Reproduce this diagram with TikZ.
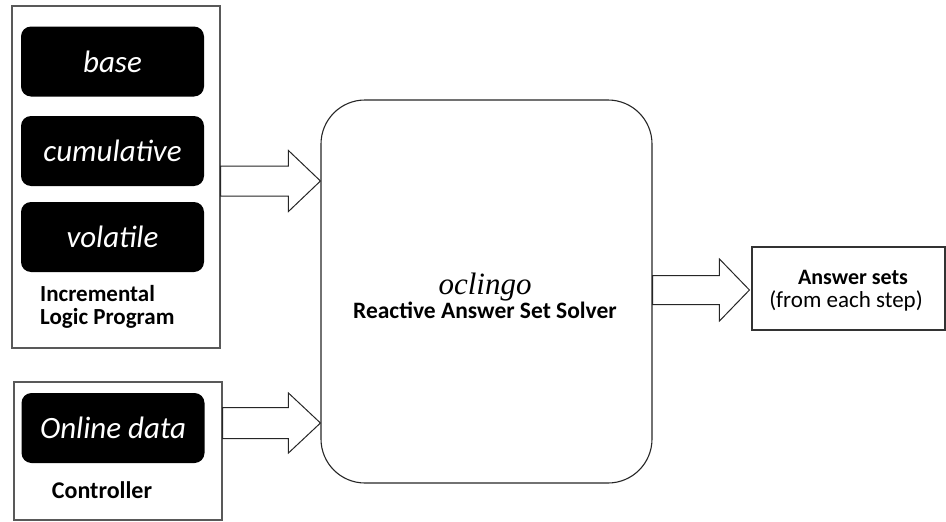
\documentclass[tikz,border=0pt]{standalone}
\usepackage{fontspec}
\setmainfont{Carlito}
\newfontfamily\oclfont{Liberation Serif}
\usetikzlibrary{calc}
\tikzset{
  outerbox/.style={draw=black!65, line width=1.1pt, fill=white, minimum width=#1},
  blackbox/.style={fill=black, rounded corners=10pt, minimum width=183pt, minimum height=70pt,
     text=white, font=\fontsize{31}{34}\selectfont\itshape},
  solver/.style={draw=black!85, line width=1.1pt, rounded corners=44pt, minimum width=331pt, minimum height=383pt},
  ansbox/.style={draw=black!80, line width=1.1pt, minimum width=193pt, minimum height=83pt},
  barrow/.style={draw=black!85, line width=1pt, fill=white, line join=miter},
  lbl/.style={font=\fontsize{23}{26}\selectfont\bfseries, inner sep=0pt}
}
\newcommand{\blockarrow}[5]{% start, end, shaft half, head half, head length
  \draw[barrow] let \p1=(#1), \p2=(#2) in
    (\x1,\y1+#3) -- (\x2-#5,\y1+#3) -- (\x2-#5,\y1+#4) -- (\x2,\y1)
    -- (\x2-#5,\y1-#4) -- (\x2-#5,\y1-#3) -- (\x1,\y1-#3) -- cycle;}
\begin{document}
\begin{tikzpicture}[x=1pt,y=-1pt]
\useasboundingbox (0,0) rectangle (946,522);
% left program box
\node[outerbox=208pt, minimum height=342pt] (lp) at (116,177) {};
\node[blackbox] (base) at (112.5,61.5) {base};
\node[blackbox] (cum) at (112.5,151) {cumulative};
\node[blackbox] (vol) at (112.5,237) {volatile};
\node[lbl, anchor=base west] (ilp1) at (40,301) {Incremental};
\node[lbl, anchor=base west] (ilp2) at (40,324) {Logic Program};
% controller box
\node[outerbox=208pt, minimum height=138pt] (ctrl) at (118,451) {};
\node[blackbox] (online) at (113,428) {Online data};
\node[lbl, font=\fontsize{24}{26}\selectfont\bfseries, anchor=base] (ctl) at (102,498) {Controller};
% solver
\node[solver] (sol) at (486.5,291.5) {};
\node[font=\fontsize{31}{34}\selectfont\oclfont\itshape, anchor=base] (ocl) at (485,294) {oclingo};
\node[font=\fontsize{23.5}{26}\selectfont\bfseries, anchor=base] (ras) at (485,318) {Reactive Answer Set Solver};
% answer sets
\node[ansbox, inner sep=0pt] (ans) at (848.5,288.5) {};
\node[font=\fontsize{22}{24}\selectfont\bfseries, anchor=base, inner sep=0pt] (anst) at (853,284) {Answer sets};
\node[font=\fontsize{23}{25}\selectfont, anchor=base, inner sep=0pt] (ansf) at (846,307) {(from each step)};
% arrows
\coordinate (a1s) at ($(lp.east)+(0,4)$);
\coordinate (a1e) at ($(sol.west)+(0,4)$);
\blockarrow{a1s}{a1e}{15pt}{30.5pt}{32pt}
\coordinate (a2s) at ($(ctrl.east)+(0,-28)$);
\coordinate (a2e) at ($(sol.west)+(0,-28)$);
\blockarrow{a2s}{a2e}{15.5pt}{30pt}{32pt}
\coordinate (a3s) at ($(sol.east)+(0,-1.5)$);
\coordinate (a3e) at ($(ans.west)+(-2,-1.5)$);
\blockarrow{a3s}{a3e}{14.5pt}{31pt}{30pt}
\end{tikzpicture}
\end{document}
